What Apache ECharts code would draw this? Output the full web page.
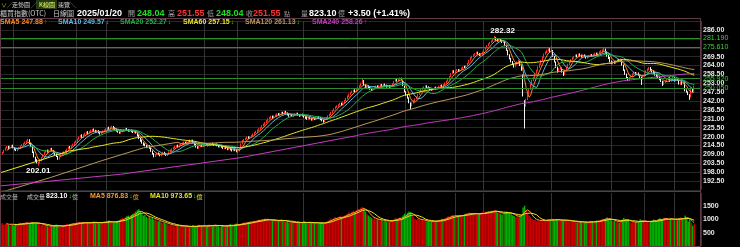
<!DOCTYPE html>
<html><head><meta charset="utf-8">
<script src="https://cdn.jsdelivr.net/npm/echarts/dist/echarts.min.js"></script>
<style>html,body{margin:0;padding:0;background:#000;}#c{width:740px;height:247px;}</style>
</head><body><div id="c"></div>
<script>
// ---------------- DATA ----------------
const opens=[208.2,209.3,210.0,211.8,213.0,213.8,212.5,214.1,214.6,213.0,
212.3,211.4,212.4,213.1,214.4,214.7,215.9,216.3,217.5,218.1,
215.5,213.6,210.2,207.2,205.5,203.0,203.8,205.6,207.3,208.9,
210.6,211.5,210.4,211.9,212.6,211.2,210.4,209.3,207.6,206.1,
207.8,208.9,209.5,210.7,211.0,212.3,213.7,212.9,214.5,215.2,
216.6,217.1,218.7,219.8,220.9,219.6,221.2,221.8,222.9,222.0,
223.2,223.5,224.5,223.7,222.6,223.6,222.8,221.7,222.6,223.1,
224.2,224.5,225.6,224.7,225.8,226.2,225.3,224.5,223.9,222.7,
222.2,223.1,223.6,224.5,224.9,224.2,223.3,224.1,223.4,222.5,
223.4,222.2,220.8,218.6,217.8,216.0,215.4,214.3,213.2,214.3,
212.8,211.0,209.3,207.9,208.9,209.8,209.1,208.2,209.4,210.2,
209.5,208.4,209.3,210.5,211.4,212.5,213.0,213.9,214.6,213.7,
214.8,215.1,216.0,216.5,215.7,216.8,217.6,216.9,217.8,216.2,
215.1,213.6,212.9,214.0,214.7,213.9,214.9,215.6,215.2,214.4,
215.3,215.9,215.3,214.5,215.4,214.6,213.7,214.5,213.8,212.8,
213.7,213.0,212.0,212.9,212.2,211.3,212.3,211.8,210.2,211.0,
212.9,215.6,217.6,218.2,218.8,219.8,219.0,220.1,220.7,221.6,
222.6,222.8,224.1,224.7,225.6,226.9,227.4,228.8,229.6,231.0,
231.5,232.6,231.7,232.9,233.0,234.1,233.3,234.4,235.0,234.2,
235.4,234.6,233.8,232.7,233.6,232.6,233.2,233.9,234.4,233.6,
232.8,233.8,233.1,232.4,231.8,230.9,231.9,231.3,230.4,231.4,
230.6,231.6,232.3,231.7,230.9,229.9,229.5,230.7,231.5,232.9,
233.7,234.9,236.1,237.2,238.3,238.9,239.6,240.6,239.7,241.2,
242.4,243.6,245.0,246.2,247.3,248.0,248.9,248.2,249.4,250.3,
251.5,253.0,254.6,251.8,250.0,251.4,250.5,249.8,248.8,249.9,
250.6,251.3,250.3,251.4,252.2,251.3,252.4,251.8,250.8,251.7,
250.6,251.2,252.8,254.2,255.5,254.5,255.7,256.2,254.9,251.2,
247.6,245.8,243.9,240.7,239.2,240.9,242.2,243.4,244.6,246.3,
247.9,249.2,250.0,250.7,251.4,250.7,250.1,249.6,248.9,249.8,
250.6,249.5,250.4,251.0,251.8,251.1,252.3,253.4,254.4,255.6,
257.3,259.1,260.8,259.6,260.8,261.4,260.4,261.6,262.3,263.4,
262.9,264.0,265.5,267.3,268.8,269.7,270.6,271.3,272.2,271.4,
270.2,271.1,272.5,273.8,275.2,276.3,277.5,278.4,279.2,280.0,
281.0,280.3,279.2,280.4,279.5,278.4,278.8,276.0,273.2,270.6,
268.2,266.3,264.8,263.2,265.0,266.1,266.2,263.8,257.8,241.6,
239.8,243.5,246.8,249.5,252.5,255.0,256.9,259.2,261.0,263.2,
265.0,267.2,269.3,271.2,272.2,273.4,274.0,272.8,273.0,269.5,
266.0,262.8,260.5,261.9,262.3,260.0,258.7,261.2,263.0,264.8,
266.2,267.8,268.7,269.6,270.4,269.8,271.0,270.4,269.4,270.5,
269.8,268.7,269.3,269.9,270.7,269.8,271.0,271.6,270.6,271.8,
272.5,272.9,273.3,274.1,272.2,270.3,268.9,266.5,265.2,266.5,
265.5,266.8,267.6,266.8,267.5,264.2,261.2,258.6,256.5,255.0,
256.1,257.4,258.8,259.6,258.6,259.3,258.1,256.7,255.6,257.9,
259.6,260.6,261.5,262.6,261.4,260.3,259.6,258.4,257.5,256.7,
255.4,254.2,252.4,253.8,254.4,255.2,256.3,254.5,255.6,256.4,
254.7,255.6,254.8,252.6,253.5,252.8,253.2,248.7,247.6,245.8,
244.6,249.6,248.04];
const closes=[209.0,210.2,211.5,212.8,213.5,212.6,213.9,214.3,213.1,212.0,
211.6,212.2,213.0,214.1,214.8,215.6,216.4,217.2,217.8,215.9,
214.2,210.5,207.8,205.0,204.1,203.4,205.2,207.0,208.6,210.3,
211.2,210.6,211.5,212.3,211.4,210.2,209.1,207.9,206.3,207.5,
208.8,209.6,210.4,211.2,212.1,213.4,213.0,214.2,215.1,216.3,
217.0,218.4,219.6,220.5,219.8,221.0,221.9,222.6,222.1,223.0,
223.6,224.2,223.5,222.8,223.4,222.6,221.9,222.5,223.3,224.0,
224.6,225.2,224.8,225.6,226.0,225.1,224.3,223.6,222.9,222.4,
223.0,223.8,224.3,224.7,224.1,223.5,223.9,223.2,222.7,223.1,
222.4,220.6,219.0,217.4,216.2,215.0,214.6,213.5,214.1,213.0,
211.2,209.5,208.1,208.8,209.6,209.0,208.4,209.2,210.0,209.3,
208.6,209.1,210.4,211.5,212.3,213.1,213.8,214.4,213.9,214.6,
215.2,215.9,216.3,215.8,216.6,217.3,217.0,217.6,216.4,215.0,
213.8,213.1,213.9,214.5,214.0,214.8,215.3,215.0,214.6,215.2,
215.7,215.1,214.7,215.2,214.5,213.9,214.3,213.6,213.0,213.5,
212.8,212.2,212.7,212.0,211.4,212.1,211.6,210.9,210.8,212.6,
215.3,217.4,218.0,218.9,219.5,219.1,219.9,220.6,221.5,222.4,
223.0,223.9,224.6,225.5,226.7,227.6,228.5,229.7,230.8,231.6,
232.3,231.8,232.6,233.1,233.9,233.4,234.2,234.8,234.3,235.1,
234.7,233.6,232.9,233.5,232.8,233.1,233.8,234.2,233.5,232.9,
233.6,233.0,232.2,231.6,231.0,231.7,231.2,230.5,231.1,230.7,
231.5,232.0,231.6,230.8,230.1,229.4,230.5,231.6,232.7,233.6,
234.8,235.9,237.0,238.1,238.8,239.5,240.3,239.8,241.0,242.2,
243.5,244.8,246.0,247.1,247.9,248.6,248.1,249.2,250.1,251.3,
252.8,254.4,252.0,250.2,251.1,250.3,249.6,249.0,249.8,250.5,
251.0,250.4,251.3,251.9,251.4,252.1,251.6,250.9,251.5,250.8,
251.0,252.6,254.0,255.2,254.6,255.5,256.0,255.3,251.8,248.1,
246.0,244.2,241.3,239.0,240.6,242.0,243.1,244.2,246.0,247.6,
249.0,249.8,250.5,251.1,250.6,249.9,249.4,249.0,249.6,250.3,
249.7,250.2,250.9,251.5,251.2,252.0,253.1,254.2,255.3,257.0,
258.8,260.4,259.8,260.6,261.2,260.5,261.4,262.1,262.8,263.0,
263.7,265.2,267.0,268.6,269.5,270.4,271.1,271.9,271.2,270.5,
270.9,272.2,273.6,274.9,276.0,277.2,278.1,279.0,279.8,280.6,
280.0,279.4,280.1,279.2,278.6,279.1,276.5,273.8,271.0,268.5,
266.6,265.0,263.5,264.8,265.9,266.7,264.3,261.4,245.5,238.2,
242.8,246.0,249.3,252.0,254.6,256.4,258.8,260.7,262.9,264.6,
266.8,268.9,270.8,271.9,273.1,273.8,273.0,273.5,270.0,266.6,
263.2,260.4,261.7,262.5,260.3,258.4,260.9,262.8,264.5,265.9,
267.4,268.6,269.3,270.1,269.6,270.8,270.2,269.5,270.3,269.7,
268.9,269.5,269.8,270.4,269.9,270.8,271.4,270.7,271.6,272.3,
272.8,273.4,273.9,272.0,270.1,268.6,266.8,265.5,266.2,265.7,
266.6,267.3,266.9,267.8,264.5,261.4,258.9,256.8,255.2,256.3,
257.5,258.6,259.4,258.8,259.1,258.3,256.9,255.4,257.6,259.3,
260.4,261.6,262.4,261.2,260.1,259.5,258.2,257.3,256.6,255.5,
254.4,252.2,254.0,254.2,255.0,256.5,254.4,255.3,256.5,254.6,
255.4,255.0,252.8,253.4,252.6,253.9,248.5,247.9,246.3,244.2,
249.3,248.05,251.55];
const lows=[207.6,208.9,209.7,211.2,212.5,212.1,212.2,213.4,212.7,211.5,
211.0,210.9,212.0,212.8,213.9,214.3,215.4,215.9,216.9,215.4,
213.6,209.8,207.1,204.3,203.4,202.01,203.3,205.2,206.9,208.5,
210.0,210.1,210.0,211.4,210.9,209.6,208.6,207.3,205.6,205.7,
207.3,208.4,209.1,210.2,210.6,211.9,212.5,212.5,214.0,214.8,
216.1,216.8,218.2,219.3,219.2,219.1,220.7,221.3,221.5,221.6,
222.7,223.0,223.0,222.2,222.1,222.0,221.3,221.2,222.1,222.7,
223.7,224.0,224.3,224.2,225.2,224.6,223.8,223.0,222.4,221.8,
221.7,222.7,223.2,224.0,223.6,223.0,222.9,222.7,222.2,222.0,
221.9,220.0,218.4,216.8,215.6,214.4,214.0,212.9,212.8,212.4,
210.6,208.8,207.2,207.4,208.4,208.5,207.8,207.8,208.9,208.8,
208.0,207.9,208.9,210.1,211.0,212.0,212.6,213.4,213.4,213.3,
214.3,214.7,215.5,215.3,215.3,216.3,216.5,216.4,215.9,214.5,
213.2,212.5,212.5,213.5,213.5,213.5,214.4,214.5,214.0,214.0,
214.8,214.6,214.2,214.1,214.0,213.3,213.2,213.1,212.4,212.4,
212.3,211.6,211.6,211.5,210.8,210.9,211.0,210.3,209.6,210.7,
212.6,215.2,217.1,217.8,218.4,218.6,218.6,219.6,220.3,221.2,
222.1,222.4,223.6,224.3,225.2,226.4,227.0,228.4,229.2,230.5,
231.1,231.3,231.3,232.4,232.6,232.9,232.9,233.9,233.8,233.8,
234.2,233.1,232.3,232.3,232.3,232.1,232.8,233.4,233.0,232.3,
232.4,232.5,231.7,231.0,230.4,230.5,230.7,229.9,229.9,230.2,
230.2,231.1,231.1,230.2,229.5,228.6,229.0,230.3,231.1,232.4,
233.3,234.5,235.7,236.8,237.8,238.4,239.2,239.2,239.3,240.8,
242.0,243.2,244.5,245.8,246.8,247.5,247.5,247.8,248.9,249.9,
251.0,252.6,251.4,249.6,249.5,249.8,249.0,248.3,248.4,249.4,
250.1,249.9,249.9,250.9,250.9,250.9,251.1,250.3,250.4,250.2,
250.1,250.8,252.4,253.8,254.1,254.1,255.2,254.8,251.2,247.4,
245.3,243.5,240.6,237.0,238.7,240.4,241.8,243.0,244.2,245.9,
247.5,248.7,249.5,250.2,250.1,249.4,248.8,248.4,248.5,249.3,
249.2,249.1,249.9,250.5,250.7,250.7,251.9,253.0,254.0,255.2,
256.9,258.7,259.2,259.2,260.3,260.0,260.0,261.1,261.8,262.4,
262.5,263.6,265.1,266.9,268.3,269.2,270.1,270.8,270.7,269.9,
269.7,270.7,272.1,273.4,274.7,275.9,277.0,277.9,278.7,279.5,
279.4,278.8,278.8,278.7,278.0,277.9,275.9,273.1,270.3,267.8,
265.9,264.3,262.7,262.8,264.5,265.6,263.7,260.7,244.8,225.0,
238.5,242.6,246.0,248.9,251.8,254.3,256.2,258.6,260.4,262.6,
264.4,266.6,268.7,270.6,271.6,272.8,272.4,272.2,269.4,265.9,
262.5,259.6,260.0,261.3,259.6,257.6,258.2,260.7,262.5,264.3,
265.7,267.3,268.2,269.1,269.0,269.3,269.6,268.9,268.9,269.1,
268.3,268.2,268.8,269.4,269.3,269.4,270.5,270.1,270.2,271.3,
272.0,272.4,272.8,271.4,269.5,268.0,266.1,264.8,264.7,265.1,
265.0,266.3,266.4,266.4,263.9,260.7,258.2,256.1,254.4,254.6,
255.7,257.0,258.3,258.3,258.1,257.8,256.3,252.0,255.2,257.5,
259.1,260.2,261.0,260.7,259.6,258.9,257.7,256.7,256.0,254.9,
253.8,251.4,252.0,253.3,253.9,254.8,253.9,254.0,255.1,254.1,
254.2,254.5,252.2,252.1,252.0,252.4,248.0,247.2,245.7,242.8,
244.2,247.5,248.04];
const highs=[209.5,210.6,211.9,213.3,214.2,214.3,214.4,214.9,215.0,213.4,
212.8,212.6,213.5,214.5,215.3,216.0,216.9,217.7,218.6,218.4,
216.0,214.0,210.8,207.6,206.0,204.2,205.7,207.4,209.1,210.8,
211.8,212.0,211.9,212.9,213.0,211.7,210.9,209.7,208.0,207.9,
209.2,210.1,210.9,211.7,212.6,213.9,214.2,214.6,215.6,216.8,
217.6,218.9,220.1,221.1,221.4,221.5,222.4,223.1,223.4,223.5,
224.2,224.8,225.0,224.2,223.9,224.0,223.2,223.0,223.8,224.5,
225.2,225.8,226.1,226.1,226.7,226.6,225.8,224.9,224.3,223.2,
223.5,224.3,224.8,225.3,225.4,224.7,224.4,224.5,223.9,223.6,
223.8,222.6,221.2,219.1,218.2,216.5,215.8,214.8,214.6,214.7,
213.2,211.4,209.8,209.3,210.1,210.2,209.6,209.7,210.6,210.6,
209.9,209.6,210.9,212.0,212.8,213.6,214.3,214.9,215.0,215.1,
215.8,216.4,216.9,216.9,217.1,217.9,218.0,218.2,218.1,216.6,
215.5,214.0,214.3,215.0,215.1,215.3,215.9,216.0,215.6,215.7,
216.3,216.3,215.7,215.7,215.8,215.0,214.8,214.9,214.2,214.0,
214.1,213.4,213.2,213.3,212.6,212.6,212.7,212.2,211.3,213.0,
215.8,217.9,218.6,219.4,220.0,220.2,220.4,221.1,222.0,222.9,
223.6,224.4,225.2,226.0,227.2,228.1,229.0,230.2,231.3,232.2,
232.9,233.0,233.1,233.7,234.4,234.5,234.7,235.4,235.4,235.7,
235.9,235.0,234.2,234.0,234.0,233.6,234.3,234.8,234.8,234.0,
234.1,234.2,233.5,232.8,232.2,232.2,232.3,231.7,231.6,231.8,
232.0,232.6,232.7,232.1,231.3,230.3,231.0,232.1,233.2,234.1,
235.3,236.4,237.5,238.7,239.4,240.1,240.9,241.0,241.5,242.7,
244.0,245.4,246.6,247.7,248.5,249.2,249.3,249.8,250.7,251.9,
253.4,256.0,255.0,252.3,251.6,251.8,250.9,250.2,250.3,251.0,
251.6,251.7,251.8,252.5,252.6,252.6,252.8,252.2,252.0,252.0,
251.6,253.1,254.5,255.8,255.9,256.0,256.6,256.5,255.2,251.6,
248.1,246.2,244.3,241.2,241.1,242.5,243.6,244.8,246.5,248.1,
249.6,250.4,251.1,251.7,251.8,251.1,250.5,250.0,250.1,250.8,
250.9,250.7,251.5,252.1,252.2,252.5,253.6,254.7,255.9,257.5,
259.3,261.0,261.1,261.1,261.8,261.8,261.9,262.7,263.4,263.9,
264.2,265.7,267.5,269.2,270.1,271.0,271.7,272.5,272.6,271.8,
271.4,272.7,274.1,275.5,276.6,277.8,278.7,279.6,280.5,282.32,
281.5,280.8,280.7,280.9,279.9,279.7,279.2,276.4,273.7,271.0,
268.7,266.8,265.2,265.3,266.5,267.4,266.7,264.2,258.5,242.5,
243.5,246.8,249.9,252.7,255.2,257.1,259.5,261.3,263.5,265.3,
267.4,269.6,271.4,272.6,273.8,274.6,274.7,276.0,273.6,270.0,
266.5,263.3,262.3,263.2,262.8,260.5,261.5,263.4,265.1,266.5,
268.0,269.2,269.9,270.8,270.9,271.4,271.5,270.8,270.8,270.9,
270.2,270.0,270.4,271.0,271.1,271.3,272.0,272.0,272.1,272.9,
273.5,274.1,275.0,274.5,272.6,270.7,269.3,267.0,266.8,266.9,
267.2,267.9,268.0,268.4,267.9,264.6,261.6,259.0,256.9,256.9,
258.0,259.1,260.0,260.0,259.7,259.7,258.5,257.1,258.1,259.8,
261.0,262.2,263.2,263.0,261.8,260.8,260.0,258.8,257.9,257.1,
255.9,254.6,254.5,254.8,255.6,257.0,256.7,255.8,257.0,256.8,
255.9,256.0,255.2,253.9,253.9,254.4,253.6,249.2,248.0,246.2,
249.7,250.1,251.55];
const volumes=[820,860,790,840,880,810,760,850,800,770,830,790,860,880,820,870,850,900,880,830,860,910,880,840,870,
860,820,780,800,760,790,740,720,770,750,730,780,810,760,740,720,770,760,800,830,790,820,850,860,830,880,870,900,850,880,910,870,850,890,860,
900,880,920,860,900,870,840,880,910,940,900,930,960,920,890,870,900,930,950,980,1020,1060,1010,1080,1120,1150,1090,1170,1220,1260,1300,1350,
1390,
1280,1200,1150,1180,1100,1060,1120,1040,1080,990,1010,960,930,950,900,870,890,850,
820,800,780,830,760,740,790,770,720,750,780,740,710,760,730,700,750,780,720,740,770,800,760,730,780,750,720,790,810,760,740,780,820,790,750,720,760,790,740,710,770,800,830,780,760,800,850,820,790,830,870,900,860,880,
900,920,880,940,960,910,980,1000,950,1020,990,1040,980,1010,960,930,970,1000,940,910,950,980,1020,960,930,900,940,880,910,870,900,860,890,920,880,850,900,930,890,860,880,910,870,840,880,900,860,830,870,890,850,880,920,950,990,1030,1000,1060,1090,1040,1080,1120,1070,1110,1150,
1180,1220,1260,1200,1290,1330,1280,1350,1400,1380,1440,1470,1390,1300,
1200,1150,1100,1060,1020,1050,990,1010,960,1000,980,940,970,920,950,900,930,980,1020,1060,1000,1040,1080,1030,
1150,1220,1180,1250,1300,1280,
1150,1080,1020,990,1040,1000,960,990,940,970,920,950,900,930,960,910,940,980,950,1000,1030,980,1050,1080,1120,1090,
1150,1180,1120,1160,1100,1140,1180,1130,1170,1200,1240,1210,1260,1230,1190,1220,1250,1200,1170,1210,1240,1280,1250,1300,1270,1320,1290,1340,1310,1360,1300,1250,1280,1220,1180,1230,1260,1300,1270,1240,1200,1160,1130,1090,1120,1080,1150,1200,
1450,1520,1380,1250,
1150,1080,1020,980,1000,950,980,930,960,1000,970,940,980,1010,960,1040,1000,960,1020,990,950,980,940,970,1000,960,930,950,910,940,900,920,880,910,940,900,870,890,920,880,910,950,920,890,930,960,920,980,
1000,1030,990,1050,1080,1020,990,960,930,950,900,920,880,950,1000,1060,1020,980,940,910,880,900,870,920,890,950,1010,960,930,900,940,910,880,920,950,1000,970,940,1010,1050,990,1030,1080,1040,1000,960,1020,1060,1000,970,1030,990,1050,
1080.5,1010.25,1050.4,1150.6,1060.6,
920.35,1010.2,870.5,760.0,823.10];
const sma60Head=[[0,197.7],[20,203.5],[45,211.0]];
const sma120Head=[[0,185.5],[33,194.6],[67,205.0],[95,213.0],[118,216.5]];
const sma240Head=[[0,189.5],[80,196.7],[160,207.0],[237,220.6]];
// candle indices that start a vertical grid line
const vGridIdx=[9,51,71,136,158,202,238,270,303,322,367,407,429,449];
// horizontal reference levels
const levelLines=[281.195,275.606,255.924,250.048];
// legend / header values
const smaNames=['SMA5','SMA10','SMA20','SMA60','SMA120','SMA240'];
const smaLast=[247.88,249.57,252.27,257.15,261.13,258.26];
const smaUp=[true,false,false,false,false,true];
const volNames=['成交量','MA5','MA10'];
const volLast=[823.10,876.83,973.65];
const quoteDate='2025/01/20';
const quoteOHLC=[248.04,251.55,248.04,251.55];
const quoteVol=823.10, quoteChg=3.50, quotePct=1.41;

// ---------------- BUILD ----------------
const N=closes.length, PAD=4;
const cats=Array.from({length:N+PAD},(_,i)=>String(i));
const vset=new Set(vGridIdx);
function smaPairs(arr,n){const out=[];let s=0;for(let i=0;i<arr.length;i++){s+=arr[i];if(i>=n)s-=arr[i-n];if(i>=n-1)out.push([i,+(s/n).toFixed(3)]);}return out;}
const kData=closes.map((c,i)=>[opens[i],c,lows[i],highs[i]]);
const UP='#ff2a2a', DN='#f4f4f4';
const smaColors=['#ff8a1e','#5cb8e0','#22b14c','#e8e82a','#b8965a','#c43cc4'];
const smaLines=[
  smaPairs(closes,5), smaPairs(closes,10), smaPairs(closes,20),
  sma60Head.concat(smaPairs(closes,60)), sma120Head.concat(smaPairs(closes,120)), sma240Head.concat(smaPairs(closes,240))
];
const FONT='"Liberation Sans", Arial, sans-serif';
const CJK='"Noto Sans CJK TC", sans-serif';
const series=[{
  type:'candlestick',xAxisIndex:0,yAxisIndex:0,data:kData,barWidth:'80%',
  itemStyle:{color:UP,color0:DN,borderColor:UP,borderColor0:DN,borderWidth:1},
  markPoint:{symbol:'circle',symbolSize:1,itemStyle:{color:'rgba(0,0,0,0)'},silent:true,
    label:{show:true,color:'#fff',fontSize:8,fontWeight:'bold',fontFamily:FONT,formatter:p=>Number(p.value).toFixed(2)},
    data:[{type:'max',valueDim:'highest',label:{position:'top',distance:1,offset:[8,0]}},
          {type:'min',valueDim:'lowest',label:{position:'bottom',distance:1,offset:[0,0]}}]},
  markLine:{symbol:'none',silent:true,animation:false,
    lineStyle:{color:'#2c8c2c',type:'solid',width:1},
    label:{show:true,position:'end',distance:2,color:'#3ad23a',fontSize:7,fontFamily:FONT,formatter:p=>Number(p.value).toFixed(3)},
    data:levelLines.map(v=>({yAxis:v}))}
}];
smaLines.forEach((d,k)=>series.push({type:'line',xAxisIndex:0,yAxisIndex:0,data:d,showSymbol:false,silent:true,
  lineStyle:{color:smaColors[k],width:1},z:3}));
series.push({type:'bar',xAxisIndex:1,yAxisIndex:1,barCategoryGap:'0%',
  data:volumes.map((v,i)=>({value:v,itemStyle:{color:closes[i]>=opens[i]?'#d00000':'#00b000'}}))});
series.push({type:'line',xAxisIndex:1,yAxisIndex:1,data:smaPairs(volumes,5),showSymbol:false,silent:true,lineStyle:{color:'#ff9a30',width:1},z:3});
series.push({type:'line',xAxisIndex:1,yAxisIndex:1,data:smaPairs(volumes,10),showSymbol:false,silent:true,lineStyle:{color:'#e6e620',width:1},z:3});

const xAx=g=>({type:'category',gridIndex:g,data:cats,boundaryGap:true,axisLine:{show:false},axisTick:{show:false},axisLabel:{show:false},
  splitLine:{show:true,interval:(i)=>vset.has(i),lineStyle:{color:'#353535',width:1}}});

// text layout helpers
const mctx=document.createElement('canvas').getContext('2d');
function tw(s,font){mctx.font=font;return mctx.measureText(s).width;}
const G=[];
function T(x,y,s,fill,font){G.push({type:'text',x:x,y:y,z:100,silent:true,style:{text:s,fill:fill,font:font,verticalAlign:'middle',align:'left'}});return x+tw(s,font);}
const B9='bold 9px '+FONT, B7='bold 7px '+FONT, C7='7px '+CJK, C6='6px '+CJK;
// row 1: tabs
G.push({type:'rect',z:99,silent:true,shape:{x:36,y:0,width:21,height:9},style:{fill:'#1f3a14'}});
T(1,4.5,'∨','#b0b000',C6); T(7,4.5,'╱','#888',C6); T(12,4.5,'走勢圖','#d8d8d8',C6); T(31,4.5,'╱','#888',C6);
T(39,4.5,'K線圖','#ffff66',C6); T(58,4.5,'速覽','#d8d8d8',C6); T(70,4.5,'╲','#888',C6);
// row 2: quote
const GREEN='#22dd22', RED='#ff3333';
T(0,13.5,'櫃買指數(OTC)','#c8c8c8',C7);
T(53,13.5,'日線圖','#d0d0d0',C7);
T(77,13.5,quoteDate,'#ffffff',B9);
T(128,13.5,'開','#a0a0a0',C7); T(137,13.5,quoteOHLC[0].toFixed(2),GREEN,B9);
T(168,13.5,'高','#a0a0a0',C7); T(177,13.5,quoteOHLC[1].toFixed(2),RED,B9);
T(207,13.5,'低','#a0a0a0',C7); T(216,13.5,quoteOHLC[2].toFixed(2),GREEN,B9);
T(246,13.5,'收','#a0a0a0',C7); T(253,13.5,quoteOHLC[3].toFixed(2),RED,B9);
T(284,13.5,'點','#a0a0a0',C6);
T(301,13.5,'量','#a0a0a0',C7); T(309,13.5,quoteVol.toFixed(2),'#ffffff',B9); T(338,13.5,'億','#a0a0a0',C7);
T(348,13.5,'+'+quoteChg.toFixed(2)+' (+'+quotePct.toFixed(2)+'%)','#ffffff',B9);
// row 3: SMA legend
const legX=[0,58,120,183,245,312];
smaNames.forEach((n,k)=>{const e=T(legX[k],22.5,n+' '+smaLast[k].toFixed(2),smaColors[k],B7);T(e+1,22.5,smaUp[k]?'↑':'↓',smaUp[k]?RED:GREEN,B7);});
// volume legend
T(0,196.5,volNames[0],'#b0b0b0',C6);
let e=T(27,196.5,volNames[0],'#c8c8c8',C6); e=T(e+1,196.5,volLast[0].toFixed(2),'#ffffff',B7); e=T(e+1,196.5,'↓',GREEN,B7); T(e,196.5,'億','#b0b0b0',C6);
e=T(90,196.5,volNames[1]+' '+volLast[1].toFixed(2),'#ff9a30',B7); e=T(e+1,196.5,'↓',GREEN,B7); T(e,196.5,'億','#ff9a30',C6);
e=T(150,196.5,volNames[2]+' '+volLast[2].toFixed(2),'#e6e620',B7); e=T(e+1,196.5,'↓',GREEN,B7); T(e,196.5,'億','#e6e620',C6);
// frame
G.push({type:'rect',z:98,silent:true,shape:{x:0.5,y:18.5,width:700,height:228},style:{fill:null,stroke:'#5e3a48',lineWidth:1}});
G.push({type:'line',z:98,silent:true,shape:{x1:0,y1:191.5,x2:701,y2:191.5},style:{stroke:'#5e3a48',lineWidth:1}});

const chart=echarts.init(document.getElementById('c'),null,{renderer:'canvas',width:740,height:247});
chart.setOption({
  backgroundColor:'#000',animation:false,
  grid:[{left:0,right:39,top:21.1,height:168.8,outerBoundsMode:'none'},{left:0,right:39,top:193,height:53,outerBoundsMode:'none'}],
  xAxis:[xAx(0),xAx(1)],
  yAxis:[{type:'value',gridIndex:0,position:'right',min:187,max:291.5,interval:5.5,
    axisLine:{show:false},axisTick:{show:false},splitLine:{show:true,lineStyle:{color:'#282828',width:1}},
    axisLabel:{margin:2,color:'#e8e8e8',fontSize:7,fontWeight:'bold',fontFamily:FONT,
      formatter:v=>(v<190||v>288||levelLines.some(l=>Math.abs(l-v)<1.5))?'':v.toFixed(2)}},
    {type:'value',gridIndex:1,position:'right',min:0,max:2000,interval:500,
    axisLine:{show:false},axisTick:{show:false},splitLine:{show:false},
    axisLabel:{margin:2,color:'#e8e8e8',fontSize:7,fontWeight:'bold',fontFamily:FONT,formatter:v=>(v>0&&v<2000)?String(v):''}}],
  series:series,
  graphic:G
});
</script></body></html>
